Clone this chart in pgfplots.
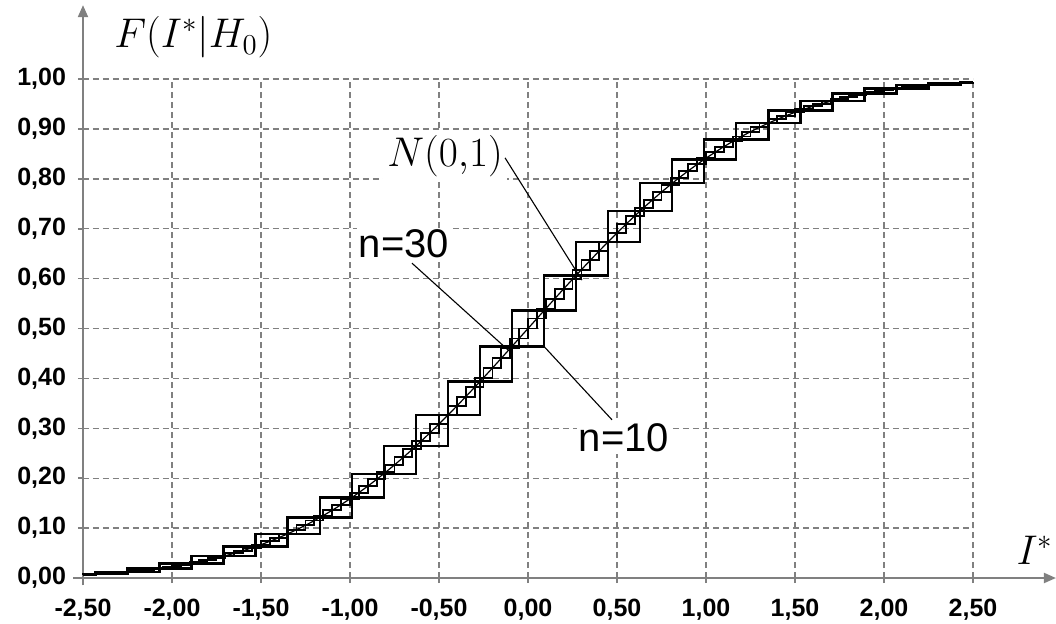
\documentclass[border=0pt]{standalone}
\usepackage{fontspec}
\setmainfont{Liberation Sans}
\usepackage{pgfplots}
\usepackage{pgfplotstable}
\pgfplotsset{compat=1.18}
\usetikzlibrary{arrows.meta}

% N(0,1) distribution function (also the corner points of the n=30 steps)
\pgfplotstableread{
x F
-2.50 0.0062
-2.45 0.0071
-2.40 0.0082
-2.35 0.0094
-2.30 0.0107
-2.25 0.0122
-2.20 0.0139
-2.15 0.0158
-2.10 0.0179
-2.05 0.0202
-2.00 0.0228
-1.95 0.0256
-1.90 0.0287
-1.85 0.0322
-1.80 0.0359
-1.75 0.0401
-1.70 0.0446
-1.65 0.0495
-1.60 0.0548
-1.55 0.0606
-1.50 0.0668
-1.45 0.0735
-1.40 0.0808
-1.35 0.0885
-1.30 0.0968
-1.25 0.1056
-1.20 0.1151
-1.15 0.1251
-1.10 0.1357
-1.05 0.1469
-1.00 0.1587
-0.95 0.1711
-0.90 0.1841
-0.85 0.1977
-0.80 0.2119
-0.75 0.2266
-0.70 0.2420
-0.65 0.2578
-0.60 0.2743
-0.55 0.2912
-0.50 0.3085
-0.45 0.3264
-0.40 0.3446
-0.35 0.3632
-0.30 0.3821
-0.25 0.4013
-0.20 0.4207
-0.15 0.4404
-0.10 0.4602
-0.05 0.4801
0.00 0.5000
0.05 0.5199
0.10 0.5398
0.15 0.5596
0.20 0.5793
0.25 0.5987
0.30 0.6179
0.35 0.6368
0.40 0.6554
0.45 0.6736
0.50 0.6915
0.55 0.7088
0.60 0.7257
0.65 0.7422
0.70 0.7580
0.75 0.7734
0.80 0.7881
0.85 0.8023
0.90 0.8159
0.95 0.8289
1.00 0.8413
1.05 0.8531
1.10 0.8643
1.15 0.8749
1.20 0.8849
1.25 0.8944
1.30 0.9032
1.35 0.9115
1.40 0.9192
1.45 0.9265
1.50 0.9332
1.55 0.9394
1.60 0.9452
1.65 0.9505
1.70 0.9554
1.75 0.9599
1.80 0.9641
1.85 0.9678
1.90 0.9713
1.95 0.9744
2.00 0.9772
2.05 0.9798
2.10 0.9821
2.15 0.9842
2.20 0.9861
2.25 0.9878
2.30 0.9893
2.35 0.9906
2.40 0.9918
2.45 0.9929
2.50 0.9938
}\normaltab

% n=10 steps
\pgfplotstableread{
x F
-2.50 0.0062
-2.43 0.0075
-2.25 0.0122
-2.07 0.0192
-1.89 0.0294
-1.71 0.0436
-1.53 0.0630
-1.35 0.0885
-1.17 0.1210
-0.99 0.1611
-0.81 0.2090
-0.63 0.2643
-0.45 0.3264
-0.27 0.3936
-0.09 0.4641
0.09 0.5359
0.27 0.6064
0.45 0.6736
0.63 0.7357
0.81 0.7910
0.99 0.8389
1.17 0.8790
1.35 0.9115
1.53 0.9370
1.71 0.9564
1.89 0.9706
2.07 0.9808
2.25 0.9878
2.43 0.9925
2.50 0.9938
}\tenTab

\begin{document}
\begin{tikzpicture}
\begin{axis}[
  at={(0,0)}, anchor=south west,
  scale only axis, width=445pt, height=249.5pt,
  xmin=-2.5, xmax=2.5, ymin=0, ymax=1,
  clip=false,
  axis line style={draw=none},
  tick pos=left, tick align=outside, major tick length=2.5pt,
  tick style={gray, line width=0.8pt},
  xtick={-2.5,-2,-1.5,-1,-0.5,0,0.5,1,1.5,2,2.5},
  xticklabels={{-2,50},{-2,00},{-1,50},{-1,00},{-0,50},{0,00},{0,50},{1,00},{1,50},{2,00},{2,50}},
  ytick={0,0.1,0.2,0.3,0.4,0.5,0.6,0.7,0.8,0.9,1},
  yticklabels={{0,00},{0,10},{0,20},{0,30},{0,40},{0,50},{0,60},{0,70},{0,80},{0,90},{1,00}},
  tick label style={font=\bfseries\fontsize{12.5}{14}\selectfont, text=black},
  xticklabel style={yshift=-4.5pt},
  yticklabel style={xshift=-2.5pt},
  grid=major,
  major grid style={gray, dash pattern=on 3pt off 2pt, line width=0.7pt},
]
% axes with arrows
\draw[gray, line width=1pt, -{Triangle[length=6pt,width=5pt]}] (axis cs:-2.556,0) -- (axis cs:2.966,0);
\draw[gray, line width=1pt, -{Triangle[length=6pt,width=5pt]}] (axis cs:-2.5,-0.015) -- (axis cs:-2.5,1.148);

% n=30 steps
\addplot[black, line width=0.9pt, const plot mark left] table[x=x,y=F] {\normaltab};
\addplot[black, line width=0.9pt, const plot mark right] table[x=x,y=F] {\normaltab};
% n=10 steps
\addplot[black, line width=1.2pt, const plot mark left] table[x=x,y=F] {\tenTab};
\addplot[black, line width=1.2pt, const plot mark right] table[x=x,y=F] {\tenTab};
% N(0,1)
\addplot[black, line width=0.6pt] table[x=x,y=F] {\normaltab};

% labels
\node[fill=white, inner sep=0pt] at (axis cs:-1.88,1.083) {\fontsize{21}{24}\selectfont $F(I^{*}\big|H_{0})$};
\node[fill=white, inner sep=2pt] at (axis cs:-0.466,0.846) {\fontsize{20}{24}\selectfont $N(0{,}1)$};
\draw[black, line width=0.55pt] (axis cs:-0.129,0.842) -- (axis cs:0.303,0.597);
\node[fill=white, inner sep=1pt] at (axis cs:-0.697,0.669) {\fontsize{20}{24}\selectfont n=30};
\draw[black, line width=0.55pt] (axis cs:-0.652,0.631) -- (axis cs:-0.112,0.457);
\node[fill=white, inner sep=1pt] at (axis cs:0.539,0.281) {\fontsize{20}{24}\selectfont n=10};
\draw[black, line width=0.55pt] (axis cs:0.472,0.317) -- (axis cs:0.09,0.464);
\node[fill=white, inner sep=1pt] at (axis cs:2.848,0.055) {\fontsize{20}{24}\selectfont $I^{*}$};
\end{axis}
\pgfresetboundingbox
\path[use as bounding box] (-41.5pt,-22.5pt) rectangle (486.5pt,289pt);
\end{tikzpicture}
\end{document}
